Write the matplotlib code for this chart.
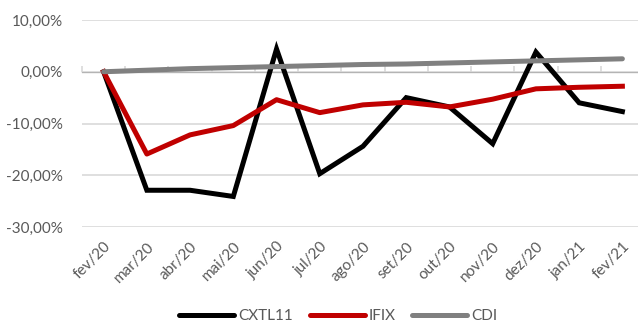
import numpy as np
import matplotlib
matplotlib.use('Agg')
import matplotlib.pyplot as plt
from matplotlib.ticker import FuncFormatter

meses = ['fev/20', 'mar/20', 'abr/20', 'mai/20', 'jun/20', 'jul/20', 'ago/20',
         'set/20', 'out/20', 'nov/20', 'dez/20', 'jan/21', 'fev/21']

# retornos acumulados (%)
cxtl11 = [0.0, -22.9, -22.9, -24.1, 4.4, -19.7, -14.4, -5.0, -6.8, -13.9, 3.8, -6.0, -7.7]
ifix = [0.0, -15.9, -12.2, -10.4, -5.4, -7.9, -6.4, -5.9, -6.8, -5.3, -3.3, -3.0, -2.8]
cdi = [0.0, 0.3, 0.6, 0.8, 1.0, 1.2, 1.4, 1.5, 1.7, 1.9, 2.1, 2.3, 2.5]

plt.rcParams['font.family'] = ['Lato', 'DejaVu Sans']

fig = plt.figure(figsize=(6.38, 3.27), dpi=100)
ax = fig.add_axes([82/638, 1-227/327, 562/638, 207/327])

x = np.arange(len(meses))
ymin, ymax = -30, 10

ax.plot(x, cxtl11, color='black', lw=3.6, label='CXTL11', solid_joinstyle='miter', zorder=3)
ax.plot(x, ifix, color='#C00000', lw=3.6, label='IFIX', zorder=4)
ax.plot(x, cdi, color='#808080', lw=3.6, label='CDI', solid_capstyle='round', zorder=5)

ax.set_xlim(-0.5, len(meses) - 0.5)
ax.set_ylim(ymin, ymax)
ax.set_yticks(np.arange(ymin, ymax + 1, 10))
ax.yaxis.set_major_formatter(FuncFormatter(lambda v, p: ('%.2f%%' % v).replace('.', ',')))
ax.grid(axis='y', color='#D9D9D9', lw=1.2)
ax.set_axisbelow(True)
for s in ax.spines.values():
    s.set_visible(False)
ax.tick_params(axis='y', length=0, pad=14, labelsize=11, labelcolor='#595959')

ax.set_xticks(x)
ax.set_xticklabels(meses, rotation=45, ha='right', rotation_mode='anchor')
ax.tick_params(axis='x', length=0, pad=9, labelsize=11, labelcolor='#595959')

# eixo horizontal no zero com marcas entre categorias
sec = ax.secondary_xaxis((0 - ymin) / (ymax - ymin))
sec.set_xticks(np.arange(-0.5, len(meses), 1.0))
sec.set_xticklabels([])
sec.tick_params(axis='x', direction='out', length=4, color='#D9D9D9', width=1.2)
sec.spines['bottom'].set_color('#D9D9D9')
sec.spines['bottom'].set_linewidth(1.2)

leg = fig.legend(loc='lower center', bbox_to_anchor=(0.53, -0.03), ncol=3, frameon=False,
                 handlelength=3.6, fontsize=11, columnspacing=1.1, handletextpad=0.25)
for t in leg.get_texts():
    t.set_color('#595959')
for h in leg.get_lines():
    h.set_solid_capstyle('round')

fig.savefig('out.png', dpi=100)
